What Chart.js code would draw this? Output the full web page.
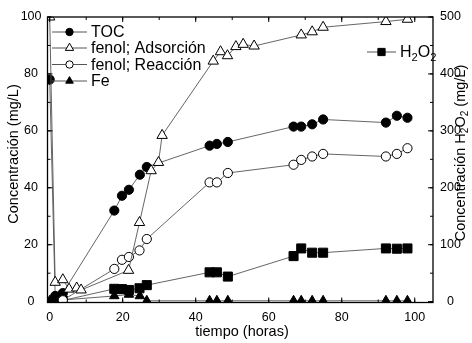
<!DOCTYPE html>
<html>
<head>
<meta charset="utf-8">
<script src="https://cdn.jsdelivr.net/npm/chart.js@4/dist/chart.umd.min.js"></script>
<style>
  html, body { margin: 0; padding: 0; background: #fff; }
  #wrap { width: 472px; height: 343px; }
</style>
</head>
<body>
<div id="wrap"><canvas id="chart" width="472" height="343"></canvas></div>
<script>
// values (tiempo in horas, conc. in mg/L)
const tocX  = [0, 1.5, 3.6, 17.7, 19.8, 21.7, 24.7, 26.6, 43.8, 45.8, 48.8, 66.8, 68.9, 71.9, 74.9, 92.1, 95.1, 98];
const tocY  = [78, 2, 3, 32, 37.2, 39.3, 44.6, 47.3, 54.8, 55.4, 56.1, 61.5, 61.5, 62.3, 64, 62.9, 65.3, 64.6];

const adsX  = [0, 1.5, 3.6, 5.3, 7.4, 8.6, 21.6, 24.6, 27.8, 29.8, 30.8, 44.8, 46.8, 48.7, 51, 53, 56, 68.9, 71.9, 74.9, 92.1, 98];
const adsY  = [100, 6.8, 7.7, 4.4, 4.8, 4.1, 11, 27.8, 46, 48.9, 58.4, 84.5, 87.8, 86.4, 89.6, 90.4, 89.8, 93.7, 94.8, 96.4, 98.4, 99.2];

const reacX = [3.6, 17.7, 19.8, 21.7, 24.6, 26.6, 43.8, 45.8, 48.8, 66.8, 68.9, 71.9, 74.9, 92.1, 95.1, 98];
const reacY = [0.5, 11.5, 14.7, 15.7, 18, 22, 41.9, 41.9, 45.2, 48.1, 49.8, 51, 51.9, 51, 51.9, 53.9];

const feX   = [0, 1.6, 3.6, 17.7, 21.7, 24.7, 26.6, 43.8, 45.8, 48.8, 66.8, 68.9, 71.9, 74.9, 92.1, 95.1, 98];
const feY   = [0.3, 0.4, 0.6, 2, 2.5, 2, 0.3, 0.3, 0.3, 0.3, 0.3, 0.3, 0.3, 0.3, 0.3, 0.3, 0.3];

// H2O2 on the right axis (0-500)
const h2o2X = [3.6, 17.7, 19.8, 21.7, 24.6, 26.6, 43.8, 45.8, 48.8, 66.8, 68.9, 71.9, 74.9, 92.1, 95.1, 98];
const h2o2Y = [2, 22.5, 22, 20.5, 23.5, 29, 51.5, 51.5, 44, 80, 93.5, 86, 86, 93.5, 93, 93.5];

const xTicks  = [0, 20, 40, 60, 80, 100];
const yTicks  = [0, 20, 40, 60, 80, 100];
const y2Ticks = [0, 100, 200, 300, 400, 500];

const FONT = "'Liberation Sans', Arial, sans-serif";
const LINE = '#555';

function pts(xs, ys) { return xs.map((x, i) => ({ x: x, y: ys[i] })); }

function series(label, xs, ys, style, fill, radius, axis) {
  return {
    label: label,
    data: pts(xs, ys),
    yAxisID: axis || 'y',
    borderColor: LINE,
    borderWidth: 0.9,
    pointStyle: style,
    pointRadius: radius,
    pointBackgroundColor: fill,
    pointBorderColor: '#000',
    pointBorderWidth: 1,
    showLine: true,
    tension: 0,
  };
}

const datasets = [
  series('fenol; Adsorción', adsX, adsY, 'triangle', '#fff', 6),
  series('fenol; Reacción', reacX, reacY, 'circle', '#fff', 4.6),
  series('TOC', tocX, tocY, 'circle', '#000', 4.6),
  series('H2O2', h2o2X, h2o2Y, 'rect', '#000', 6.4, 'y2'),
  series('Fe', feX, feY, 'triangle', '#000', 5.5),
];

//  Frame, inward ticks, titles and legends
function drawTicks(ctx, scale, step, len, side, area) {
  const first = Math.ceil(scale.min / step) * step;
  for (let v = first; v <= scale.max + 1e-9; v += step) {
    const p = scale.getPixelForValue(v);
    ctx.beginPath();
    if (side === 'bottom') { ctx.moveTo(p, area.bottom); ctx.lineTo(p, area.bottom - len); }
    if (side === 'top')    { ctx.moveTo(p, area.top);    ctx.lineTo(p, area.top + len); }
    if (side === 'left')   { ctx.moveTo(area.left, p);   ctx.lineTo(area.left + len, p); }
    if (side === 'right')  { ctx.moveTo(area.right, p);  ctx.lineTo(area.right - len, p); }
    ctx.stroke();
  }
}

// text with subscript parts: [[text, isSub], ...], left aligned, middle baseline
function drawSub(ctx, parts, x, y, size) {
  let cx = x;
  parts.forEach(([t, sub]) => {
    ctx.font = (sub ? size * 0.7 : size) + 'px ' + FONT;
    ctx.fillText(t, cx, sub ? y + size * 0.3 : y);
    cx += ctx.measureText(t).width;
  });
  return cx - x;
}

function subWidth(ctx, parts, size) {
  let w = 0;
  parts.forEach(([t, sub]) => {
    ctx.font = (sub ? size * 0.7 : size) + 'px ' + FONT;
    w += ctx.measureText(t).width;
  });
  return w;
}

function drawLegendItem(ctx, ds, x, y, lineLen, textParts) {
  ctx.strokeStyle = LINE;
  ctx.lineWidth = 1;
  ctx.beginPath();
  ctx.moveTo(x, y); ctx.lineTo(x + lineLen, y);
  ctx.stroke();
  ctx.fillStyle = ds.pointBackgroundColor;
  ctx.strokeStyle = '#000';
  ctx.lineWidth = 1;
  Chart.helpers.drawPoint(ctx, {
    pointStyle: ds.pointStyle,
    radius: ds.pointRadius * 0.8,
    borderWidth: 1,
    rotation: 0,
  }, x + lineLen / 2, y);
  ctx.fillStyle = '#000';
  ctx.textBaseline = 'middle';
  ctx.textAlign = 'left';
  drawSub(ctx, textParts, x + lineLen + 4, y + 1, 16);
}

const framePlugin = {
  id: 'frame',
  afterDraw(chart) {
    const ctx = chart.ctx;
    const a = chart.chartArea;
    const sx = chart.scales.x, sy = chart.scales.y, sy2 = chart.scales.y2;
    ctx.save();
    ctx.strokeStyle = '#000';
    ctx.lineWidth = 1.3;
    ctx.strokeRect(a.left, a.top, a.right - a.left, a.bottom - a.top);
    ctx.lineWidth = 1;
    drawTicks(ctx, sx, 20, 5, 'bottom', a);
    drawTicks(ctx, sx, 10, 3, 'bottom', a);
    drawTicks(ctx, sx, 20, 5, 'top', a);
    drawTicks(ctx, sx, 10, 3, 'top', a);
    drawTicks(ctx, sy, 20, 5, 'left', a);
    drawTicks(ctx, sy, 10, 3, 'left', a);
    drawTicks(ctx, sy2, 100, 5, 'right', a);
    drawTicks(ctx, sy2, 50, 3, 'right', a);

    // legends
    const styleFor = label => chart.data.datasets.find(d => d.label === label);
    const rows = [['TOC', 32], ['fenol; Adsorción', 48], ['fenol; Reacción', 64.5], ['Fe', 81]];
    rows.forEach(r => drawLegendItem(ctx, styleFor(r[0]), 52, r[1], 35, [[r[0], false]]));
    drawLegendItem(ctx, styleFor('H2O2'), 367, 52, 29, [['H', false], ['2', true], ['O', false], ['2', true]]);

    // axis titles
    const tsize = 14.5;
    ctx.fillStyle = '#000';
    ctx.textBaseline = 'middle';
    ctx.font = tsize + 'px ' + FONT;
    ctx.textAlign = 'center';
    ctx.fillText('tiempo (horas)', 242, 332);

    ctx.save();
    ctx.translate(14, 154);
    ctx.rotate(-Math.PI / 2);
    ctx.fillText('Concentración (mg/L)', 0, 0);
    ctx.restore();

    const rparts = [['Concentración H', false], ['2', true], ['O', false], ['2', true], [' (mg/L)', false]];
    ctx.save();
    ctx.translate(461, 153);
    ctx.rotate(-Math.PI / 2);
    ctx.textAlign = 'left';
    drawSub(ctx, rparts, -subWidth(ctx, rparts, tsize) / 2, 0, tsize);
    ctx.restore();

    ctx.restore();
  }
};

const tickFont = { family: FONT, size: 12.5 };

new Chart(document.getElementById('chart'), {
  type: 'scatter',
  data: { datasets: datasets },
  plugins: [framePlugin],
  options: {
    responsive: false,
    animation: false,
    devicePixelRatio: 1,
    layout: { padding: { top: 17, left: 0, right: 0, bottom: 0 } },
    plugins: { legend: { display: false }, tooltip: { enabled: false } },
    scales: {
      x: {
        type: 'linear', position: 'bottom',
        min: -0.6, max: 105,
        afterBuildTicks: s => { s.ticks = xTicks.map(v => ({ value: v })); },
        afterFit: s => { s.height = 40.5; },
        grid: { display: false, drawTicks: false },
        border: { display: false },
        ticks: { color: '#000', font: tickFont, padding: 8, maxRotation: 0 },
      },
      y: {
        type: 'linear', position: 'left',
        min: -0.3, max: 100,
        afterBuildTicks: s => { s.ticks = yTicks.map(v => ({ value: v })); },
        afterFit: s => { s.width = 47.5; },
        grid: { display: false, drawTicks: false },
        border: { display: false },
        ticks: { color: '#000', font: tickFont, padding: 6, crossAlign: 'center' },
      },
      y2: {
        type: 'linear', position: 'right',
        min: -1.5, max: 500,
        afterBuildTicks: s => { s.ticks = y2Ticks.map(v => ({ value: v })); },
        afterFit: s => { s.width = 39; },
        grid: { display: false, drawTicks: false },
        border: { display: false },
        ticks: { color: '#000', font: tickFont, padding: 7, crossAlign: 'center' },
      },
    },
  },
});
</script>
</body>
</html>
